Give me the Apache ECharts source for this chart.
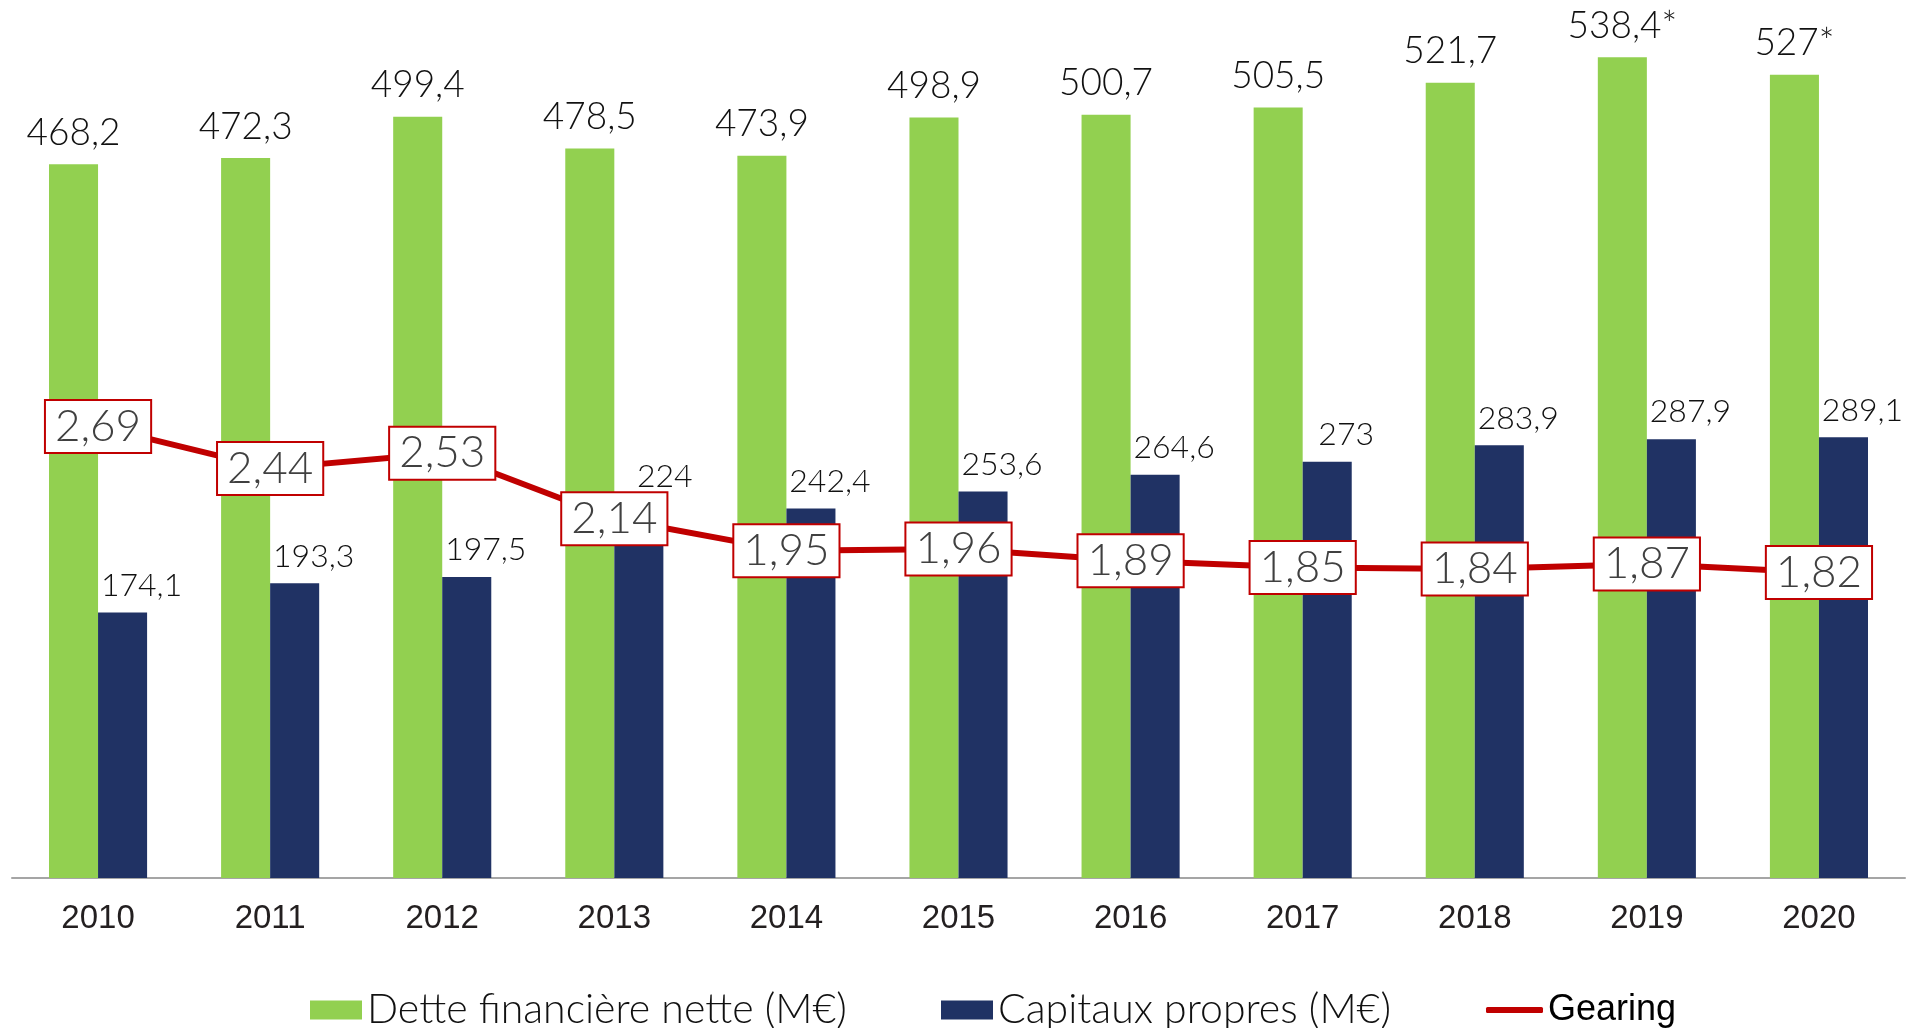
<!DOCTYPE html>
<html>
<head>
<meta charset="utf-8">
<script src="https://cdn.jsdelivr.net/npm/echarts@6/dist/echarts.min.js"></script>
<style>
    html, body { margin: 0; padding: 0; background: #fff; }
    #chart { width: 1932px; height: 1028px; }
</style>
</head>
<body>
<div id="chart"></div>
<script>
    // data
    const years = ['2010', '2011', '2012', '2013', '2014', '2015', '2016', '2017', '2018', '2019', '2020'];
    const dette = [468.2, 472.3, 499.4, 478.5, 473.9, 498.9, 500.7, 505.5, 521.7, 538.4, 527];
    const detteNotes = ['', '', '', '', '', '', '', '', '', '*', '*'];
    const capitaux = [174.1, 193.3, 197.5, 224, 242.4, 253.6, 264.6, 273, 283.9, 287.9, 289.1];
    const gearing = [2.69, 2.44, 2.53, 2.14, 1.95, 1.96, 1.89, 1.85, 1.84, 1.87, 1.82];

    const nameDette = 'Dette financière nette (M€)';
    const nameCap = 'Capitaux propres (M€)';
    const nameGear = 'Gearing';

    const thinFont = 'Lato';
    const fr = v => String(v).replace('.', ',');

    let myChart = echarts.init(document.getElementById('chart'));
    let legendText = {
        fontFamily: thinFont,
        fontWeight: 300,
        fontSize: 41,
        color: '#111',
        lineHeight: 42
    };
    // the 2013 label sits higher in the original so it clears the gearing box
    let capData = capitaux.map((v, i) => i === 3 ? { value: v, label: { distance: 44, offset: [26, 0] } } : v);
    let option = {
        animation: false,
        grid: {
            left: 12,
            right: 27,
            top: 0,
            bottom: 150
        },
        legend: [
            {
                left: 305, top: 984,
                data: [nameDette],
                itemWidth: 52, itemHeight: 19,
                icon: 'rect',
                textStyle: legendText
            },
            {
                left: 936, top: 984,
                data: [nameCap],
                itemWidth: 52, itemHeight: 19,
                icon: 'rect',
                textStyle: legendText
            },
            {
                left: 1481, top: 984,
                data: [nameGear],
                itemWidth: 57, itemHeight: 6,
                icon: 'roundRect',
                textStyle: {
                    fontFamily: 'Liberation Sans',
                    fontSize: 36,
                    color: '#000',
                    lineHeight: 42
                }
            }
        ],
        xAxis: {
            type: 'category',
            data: years,
            axisLine: { lineStyle: { color: '#a5a5a5', width: 2 } },
            axisTick: { show: false },
            axisLabel: {
                margin: 24,
                fontFamily: 'Liberation Sans',
                fontSize: 33,
                color: '#231f20'
            }
        },
        yAxis: [
            {
                type: 'value',
                min: 0,
                max: 576,
                show: false,
                splitLine: { show: false }
            },
            {
                type: 'value',
                min: 0,
                max: 5.23,
                show: false,
                splitLine: { show: false }
            }
        ],
        series: [
            {
                name: nameDette,
                type: 'bar',
                data: dette,
                barGap: '0%',
                barCategoryGap: '43%',
                itemStyle: { color: '#92d050' },
                label: {
                    show: true,
                    position: 'top',
                    distance: 13,
                    fontFamily: thinFont,
                    fontWeight: 300,
                    fontSize: 37,
                    color: '#111',
                    formatter: p => fr(p.value) + detteNotes[p.dataIndex]
                }
            },
            {
                name: nameCap,
                type: 'bar',
                data: capData,
                itemStyle: { color: '#203264' },
                label: {
                    show: true,
                    position: 'top',
                    distance: 11,
                    offset: [19, 0],
                    fontFamily: thinFont,
                    fontWeight: 300,
                    fontSize: 32,
                    color: '#111',
                    formatter: p => fr(p.value)
                }
            },
            {
                name: nameGear,
                type: 'line',
                yAxisIndex: 1,
                data: gearing,
                symbol: 'circle',
                symbolSize: 2,
                lineStyle: { color: '#c00000', width: 6 },
                itemStyle: { color: '#c00000' },
                label: {
                    show: true,
                    position: 'inside',
                    fontFamily: thinFont,
                    fontWeight: 300,
                    fontSize: 44,
                    lineHeight: 45,
                    color: '#404040',
                    backgroundColor: '#fff',
                    borderColor: '#c00000',
                    borderWidth: 2,
                    padding: [4, 9, 2, 9],
                    formatter: p => fr(p.value)
                }
            }
        ]
    };
    myChart.setOption(option);
</script>
</body>
</html>
